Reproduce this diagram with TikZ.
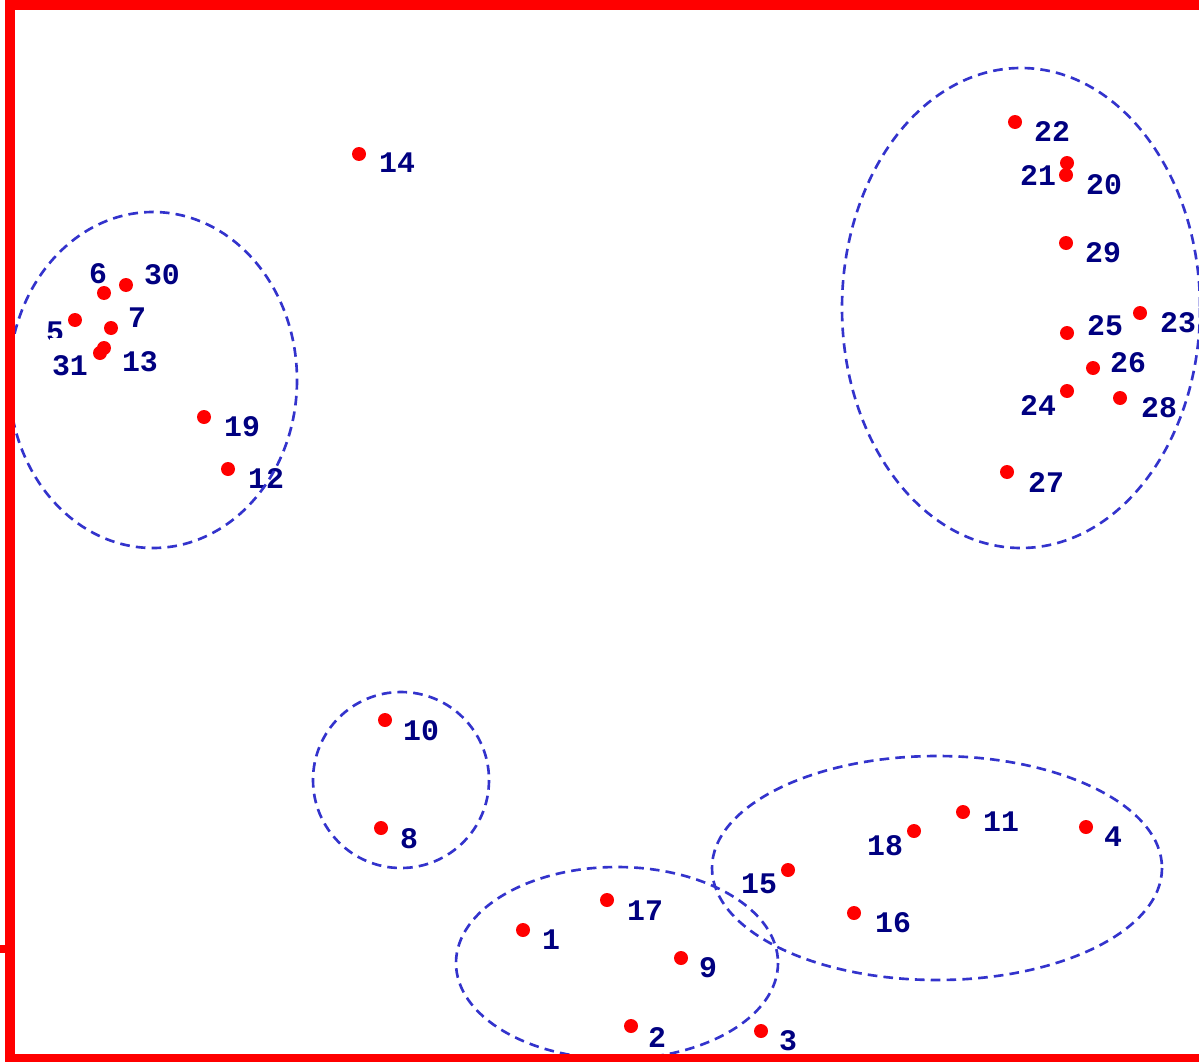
\documentclass[tikz,border=0pt]{standalone}
\usepackage{fontspec}
\setmonofont{Liberation Mono}
\usetikzlibrary{calc}
\definecolor{ptred}{RGB}{255,0,0}
\definecolor{lblnavy}{RGB}{0,0,128}
\definecolor{grpblue}{RGB}{51,51,204}
\tikzset{
  pt/.style={circle,fill=ptred,inner sep=0pt,minimum size=0.28cm},
  lbl/.style={text=lblnavy,font=\ttfamily\bfseries\fontsize{17}{18}\selectfont,inner sep=1pt},
  grp/.style={draw=grpblue,line width=1.5pt,dash pattern=on 5.5pt off 3.5pt},
  frame/.style={draw=ptred,line width=0.2cm}
}

\begin{document}
\begin{tikzpicture}[x=0.02cm,y=-0.02cm]
\useasboundingbox (0,0) rectangle (1199,1061);
  % points
  \node[pt] (p1) at (523,930) {};
  \node[pt] (p2) at (631,1026) {};
  \node[pt] (p3) at (761,1031) {};
  \node[pt] (p4) at (1086,827) {};
  \node[pt] (p5) at (75,320) {};
  \node[pt] (p6) at (104,293) {};
  \node[pt] (p7) at (111,328) {};
  \node[pt] (p8) at (381,828) {};
  \node[pt] (p9) at (681,958) {};
  \node[pt] (p10) at (385,720) {};
  \node[pt] (p11) at (963,812) {};
  \node[pt] (p12) at (228,469) {};
  \node[pt] (p13) at (104,348) {};
  \node[pt] (p14) at (359,154) {};
  \node[pt] (p15) at (788,870) {};
  \node[pt] (p16) at (854,913) {};
  \node[pt] (p17) at (607,900) {};
  \node[pt] (p18) at (914,831) {};
  \node[pt] (p19) at (204,417) {};
  \node[pt] (p20) at (1066,175) {};
  \node[pt] (p21) at (1067,163) {};
  \node[pt] (p22) at (1015,122) {};
  \node[pt] (p23) at (1140,313) {};
  \node[pt] (p24) at (1067,391) {};
  \node[pt] (p25) at (1067,333) {};
  \node[pt] (p26) at (1093,368) {};
  \node[pt] (p27) at (1007,472) {};
  \node[pt] (p28) at (1120,398) {};
  \node[pt] (p29) at (1066,243) {};
  \node[pt] (p30) at (126,285) {};
  \node[pt] (p31) at (100,353) {};
  % labels
  \node[lbl] (l1) at ($(p1) + (28,10)$) {1};
  \node[lbl] (l2) at ($(p2) + (26,11)$) {2};
  \node[lbl] (l3) at ($(p3) + (27,10)$) {3};
  \node[lbl] (l4) at ($(p4) + (27,10)$) {4};
  \node[lbl] (l5) at ($(p5) + (-20,12)$) {5};
  \node[lbl] (l6) at ($(p6) + (-6,-19)$) {6};
  \node[lbl] (l7) at ($(p7) + (26,-10)$) {7};
  \node[lbl] (l8) at ($(p8) + (28,11)$) {8};
  \node[lbl] (l9) at ($(p9) + (27,10)$) {9};
  \node[lbl] (l10) at ($(p10) + (36,11)$) {10};
  \node[lbl] (l11) at ($(p11) + (38,10)$) {11};
  \node[lbl] (l12) at ($(p12) + (38,10)$) {12};
  \node[lbl] (l13) at ($(p13) + (36,14)$) {13};
  \node[lbl] (l14) at ($(p14) + (38,9)$) {14};
  \node[lbl] (l15) at ($(p15) + (-29,14)$) {15};
  \node[lbl] (l16) at ($(p16) + (39,10)$) {16};
  \node[lbl] (l17) at ($(p17) + (38,11)$) {17};
  \node[lbl] (l18) at ($(p18) + (-29,15)$) {18};
  \node[lbl] (l19) at ($(p19) + (38,10)$) {19};
  \node[lbl] (l20) at ($(p20) + (38,10)$) {20};
  \node[lbl] (l21) at ($(p21) + (-29,13)$) {21};
  \node[lbl] (l22) at ($(p22) + (37,10)$) {22};
  \node[lbl] (l23) at ($(p23) + (38,10)$) {23};
  \node[lbl] (l24) at ($(p24) + (-29,15)$) {24};
  \node[lbl] (l25) at ($(p25) + (38,-7)$) {25};
  \node[lbl] (l26) at ($(p26) + (35,-5)$) {26};
  \node[lbl] (l27) at ($(p27) + (39,11)$) {27};
  \node[lbl] (l28) at ($(p28) + (39,10)$) {28};
  \node[lbl] (l29) at ($(p29) + (37,10)$) {29};
  \node[lbl] (l30) at ($(p30) + (36,-10)$) {30};
  \node[lbl,fill=white,anchor=base,text height=20pt] (l31) at ($(p31) + (-30,22)$) {31};
  % groups
  \draw[grp] (153,380) ellipse (144 and 168);
  \draw[grp] (1021,308) ellipse (179 and 240);
  \draw[grp] (401,780) circle (88);
  \draw[grp] (617,963) ellipse (161 and 96);
  \draw[grp] (937,868) ellipse (225 and 112);
  % frame
  \draw[frame] (1220,5) -- (10,5) -- (10,1059) -- (1220,1059);
  \draw[ptred,line width=0.16cm] (0,949) -- (10,949);
\end{tikzpicture}
\end{document}
